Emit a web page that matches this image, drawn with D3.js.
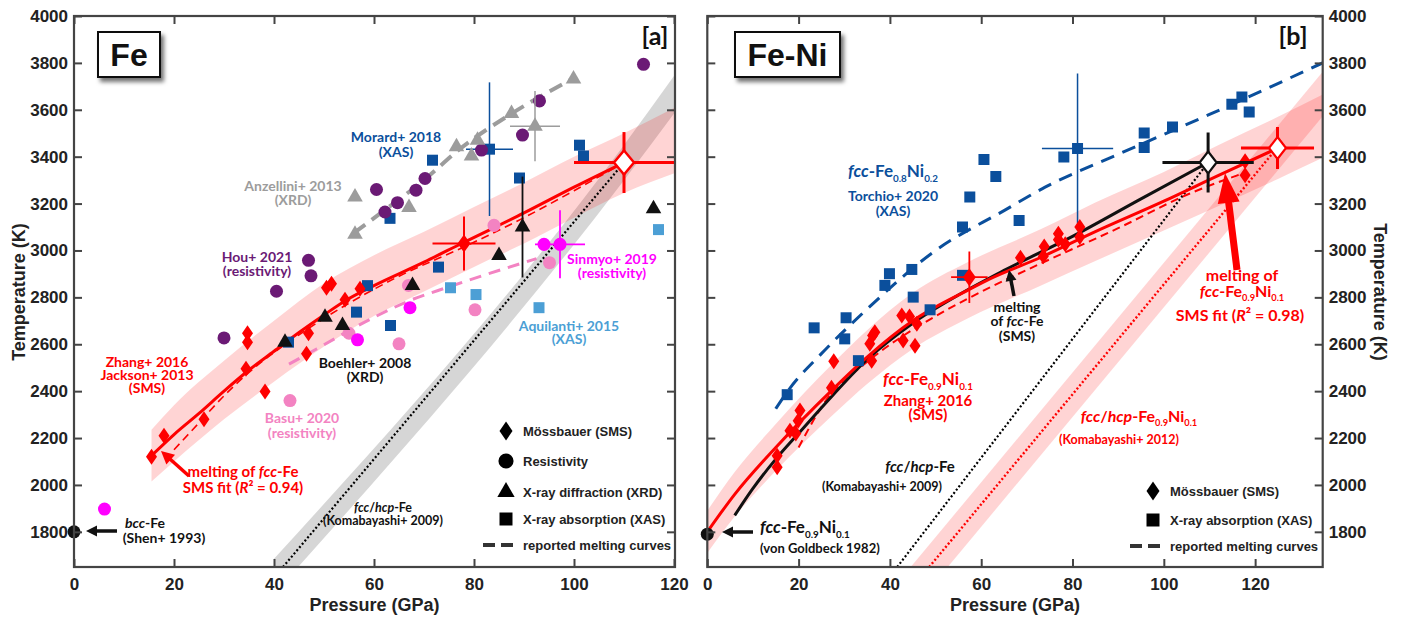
<!DOCTYPE html>
<html>
<head>
<meta charset="utf-8">
<script src="https://cdn.jsdelivr.net/npm/d3@7"></script>
<style>
  body { margin: 0; background: #fff; }
  svg text { font-family: Lato, "Open Sans", sans-serif; font-weight: bold; }
  .tick text, .axis-title, .legend text { font-family: "Liberation Sans", Arial, sans-serif; font-weight: bold; fill: #222; }
</style>
</head>
<body>
<svg id="chart" width="1402" height="619"></svg>
<script>
// ---------- data : panel [a] Fe  (pressure GPa, temperature K) ----------
const xTicks = [0, 20, 40, 60, 80, 100, 120];
const yTicks = [1800, 2000, 2200, 2400, 2600, 2800, 3000, 3200, 3400, 3600, 3800, 4000];

const aFitLine = [[15.5,2125],[20,2215],[25,2305],[30,2400],[35,2490],[40,2570],[45,2650],[50,2725],[55,2795],[60,2850],[70,2950],[78,3035],[90,3160],[100,3270],[110,3375]];
const aFitBand = [[15.5,2015,2235],[20,2100,2340],[30,2280,2530],[40,2440,2700],[50,2590,2860],[60,2720,2980],[70,2825,3080],[80,2930,3185],[90,3030,3290],[100,3140,3400],[110,3245,3500],[120.2,3330,3610]];
const aReported = [[20,2150],[25,2265],[30,2380],[35,2480],[45,2640],[55,2775],[65,2890],[78,3015],[90,3140],[100,3255],[110,3375]];
const aSms = [[15.5,2120],[18,2210],[26,2280],[34.7,2647],[34.7,2609],[34.4,2496],[38.2,2399],[46.9,2647],[46.5,2559],[54.2,2790],[50.5,2841],[51.5,2858],[57.2,2837]];
const aSmsErr = [[78,3030,6.3,115]];
const aFeMelt = [[110,3375,10,130]];
const aHou = [[30,2627],[40.5,2826],[46.9,2958],[47.4,2892],[60.5,3260],[62.2,3164],[64.7,3204],[68.4,3257],[70.2,3307],[81.5,3428],[89.7,3492],[93.1,3638],[113.9,3794]];
const aSinmyo = [[6.1,1897],[56.7,2619],[67.2,2756],[94,3026]];
const aSinmyoErr = [[97.2,3026,5,145]];
const aBasu = [[43.2,2360],[55,2647],[65,2602],[66.9,2851],[80.2,2747],[84,3107],[95.1,2948]];
const aBasuCurve = [[43,2515],[48.5,2580],[60,2715],[67,2785],[75,2845],[92.5,2965]];
const aBoehler = [[42.2,2609],[50.2,2715],[53.7,2680],[67.7,2851],[85,2979],[115.9,3178]];
const aBoehlerErr = [[89.7,3100,0,215]];
const aAnzellini = [[56.2,3228],[56.2,3069],[67,3183],[76.5,3442],[79.5,3403],[80.7,3470],[87.5,3584],[99.9,3731]];
const aAnzelliniErr = [[92.2,3530,5,150]];
const aAnzelliniCurve = [[56,3075],[62,3170],[70,3300],[77,3430],[88,3590],[100,3735]];
const aMorard = [[42.9,2609],[56.5,2737],[58.7,2850],[63.3,2680],[63.2,3137],[71.7,3385],[72.9,2929],[89.1,3309],[101.1,3449],[101.9,3403]];
const aMorardErr = [[83.1,3432,4.7,285]];
const aAquilanti = [[75.3,2841],[80.4,2812],[93,2756],[116.9,3089]];
const aShen = [[0,1800]];
const aPhaseLine = [[41.8,1650],[110,3375]];
const aPhaseBand = [[40,1535,1685],[110,3300,3450],[120.2,3590,3750]];

// ---------- data : panel [b] Fe-Ni ----------
const bTorchio = [[17.5,2385],[23.4,2670],[30.4,2713],[30.1,2623],[33.1,2530],[38.9,2851],[39.9,2901],[44.8,2919],[45.1,2801],[48.8,2747],[55.9,3100],[55.9,2894],[57.5,3228],[60.6,3388],[63.2,3316],[68.3,3128],[78.1,3399],[95.7,3501],[95.7,3439],[101.9,3527],[114.9,3624],[117.1,3655],[118.7,3591]];
const bTorchioErr = [[81.1,3435,7.8,320]];
const bTorchioCurve = [[15,2325],[18,2410],[25,2560],[35,2750],[50,3000],[65,3170],[74,3270],[90,3410],[110,3580],[134.8,3800]];
const bZhang = [[15.3,2125],[15.3,2075],[18.1,2231],[19.4,2219],[19.9,2274],[20.3,2317],[27.2,2414],[27.7,2528],[35.6,2602],[36,2530],[36.2,2637],[36.7,2651],[42.6,2723],[42.9,2616],[44.3,2718],[45.5,2594],[45.9,2687],[68.6,2969],[73.6,2975],[73.8,3017],[76.9,3046],[76.9,3071],[78.4,3026],[81.6,3100],[81.6,3057],[117.8,3381],[117.8,3321]];
const bZhangErr = [[57.4,2886,4,110]];
const bFeMelt = [[109.7,3375,10,128]];
const bFeNiMelt = [[124.9,3437,8,90]];
const bFeLine = [[6,1870],[10,1985],[15,2110],[20,2220],[27.6,2385],[35,2535],[45,2690],[55,2810],[65,2915],[80,3060],[95,3220],[109.7,3375]];
const bFitLine = [[0,1800],[6,1960],[15,2160],[27.6,2410],[35,2545],[45,2700],[57,2830],[62,2880],[73,2970],[85,3080],[100,3210],[112,3320],[125,3437]];
const bFitBand = [[0,1710,1890],[6,1865,2055],[15,2060,2260],[27.6,2300,2520],[35,2430,2660],[45,2580,2820],[57,2710,2950],[73,2850,3090],[85,2955,3205],[100,3085,3335],[112,3190,3450],[125,3305,3570],[134.8,3395,3665]];
const bReported = [[20,2160],[27.6,2400],[31,2460],[38,2570],[50,2720],[62,2843],[73,2944],[90,3095],[105.7,3243],[117.5,3330]];
const bFePhase = [[41.6,1650],[109.7,3375]];
const bFeNiPhase = [[48.6,1650],[124.5,3430]];
const bFeNiPhaseBand = [[44,1447,1637],[134.8,3572,3762]];
const bGoldbeck = [[0,1790]];

// ---------- colours ----------
const RED = "#fe0000", PURPLE = "#6b1a75", MAGENTA = "#ff00ff", PINK = "#f383c2",
      NAVY = "#0b4f9c", SKY = "#4c9fd5", GRAY = "#9c9c9c", INK = "#111";

const svg = d3.select("#chart");
const defs = svg.append("defs");
const f = defs.append("filter").attr("id", "shadow").attr("x", "-20%").attr("y", "-20%").attr("width", "150%").attr("height", "160%");
f.append("feDropShadow").attr("dx", 3).attr("dy", 4).attr("stdDeviation", 2.2).attr("flood-color", "#000").attr("flood-opacity", 0.55);

const y = d3.scaleLinear().domain([1650, 4000]).range([567, 16]);
const xa = d3.scaleLinear().domain([0, 120.2]).range([74, 675]);
const xb = d3.scaleLinear().domain([0, 134.8]).range([707.3, 1322.7]);

function diamond(w, h) { return `M0,${-h/2}L${w/2},0L0,${h/2}L${-w/2},0Z`; }
const sym = {
  circle: d3.symbol(d3.symbolCircle, 133)(),
  square: d3.symbol(d3.symbolSquare, 121)(),
  triangle: d3.symbol(d3.symbolTriangle, 105)(),
  diamond: diamond(11, 16)
};

function panel(id, x) {
  const [x0, x1] = x.range();
  defs.append("clipPath").attr("id", "clip-" + id).append("rect")
    .attr("x", x0).attr("y", y(4000)).attr("width", x1 - x0).attr("height", y(1650) - y(4000));
  const g = svg.append("g");
  const plot = g.append("g").attr("clip-path", `url(#clip-${id})`);
  return { g, plot, x };
}

function band(p, data, color, op) {
  p.plot.append("path").datum(data)
    .attr("d", d3.area().x(d => p.x(d[0])).y0(d => y(d[1])).y1(d => y(d[2])).curve(d3.curveMonotoneX))
    .attr("fill", color).attr("fill-opacity", op);
}
function line(p, data, color, w, dash) {
  p.plot.append("path").datum(data)
    .attr("d", d3.line().x(d => p.x(d[0])).y(d => y(d[1])).curve(d3.curveMonotoneX))
    .attr("fill", "none").attr("stroke", color).attr("stroke-width", w)
    .attr("stroke-dasharray", dash || null);
}
function points(g, p, data, shape, color) {
  g.selectAll(null).data(data).enter().append("path")
    .attr("d", shape).attr("fill", color)
    .attr("transform", d => `translate(${p.x(d[0])},${y(d[1])})`);
}
function errbars(g, p, data, color, w) {
  data.forEach(d => {
    if (d[2]) g.append("line").attr("x1", p.x(d[0] - d[2])).attr("x2", p.x(d[0] + d[2]))
      .attr("y1", y(d[1])).attr("y2", y(d[1])).attr("stroke", color).attr("stroke-width", w);
    g.append("line").attr("x1", p.x(d[0])).attr("x2", p.x(d[0]))
      .attr("y1", y(d[1] - d[3])).attr("y2", y(d[1] + d[3])).attr("stroke", color).attr("stroke-width", w);
  });
}

function axes(p, side) {
  const g = p.g, x = p.x;
  const style = sel => {
    sel.select(".domain").remove();
    sel.selectAll("line").attr("stroke", "#444").attr("stroke-width", 2);
    sel.selectAll("text").attr("font-size", 17);
  };
  const fmt = d3.format("d");
  g.append("g").attr("transform", `translate(0,${y(1650)})`)
    .call(d3.axisBottom(x).tickValues(xTicks).tickFormat(fmt).tickSize(-8).tickSizeOuter(0).tickPadding(11)).call(style);
  g.append("g").attr("transform", `translate(0,${y(4000)})`)
    .call(d3.axisTop(x).tickValues(xTicks).tickSize(-8).tickSizeOuter(0).tickFormat("")).call(style);
  const [x0, x1] = x.range();
  const lab = side === "left" ? d3.axisLeft(y) : d3.axisRight(y);
  const nol = side === "left" ? d3.axisRight(y) : d3.axisLeft(y);
  g.append("g").attr("transform", `translate(${side === "left" ? x0 : x1},0)`)
    .call(lab.tickValues(yTicks).tickFormat(fmt).tickSize(-8).tickSizeOuter(0).tickPadding(6)).call(style);
  g.append("g").attr("transform", `translate(${side === "left" ? x1 : x0},0)`)
    .call(nol.tickValues(yTicks).tickSize(-8).tickSizeOuter(0).tickFormat("")).call(style);
  g.append("rect").attr("x", x0).attr("y", y(4000)).attr("width", x1 - x0).attr("height", y(1650) - y(4000))
    .attr("fill", "none").attr("stroke", "#444").attr("stroke-width", 2.2);
  g.append("text").attr("class", "axis-title").attr("x", (x0 + x1) / 2).attr("y", 611)
    .attr("text-anchor", "middle").attr("font-size", 18).text("Pressure (GPa)");
  const tx = side === "left" ? 25 : 1374;
  g.append("text").attr("class", "axis-title").attr("font-size", 18).attr("text-anchor", "middle")
    .attr("transform", `translate(${tx},292) rotate(${side === "left" ? -90 : 90})`).text("Temperature (K)");
}

// text with *italic* and {subscript} markup
function rich(g, x, yy, str, size, color, anchor) {
  const t = g.append("text").attr("x", x).attr("y", yy).attr("font-size", size)
    .attr("fill", color).attr("text-anchor", anchor || "middle");
  let shift = 0;
  str.match(/(\*[^*]+\*|\{[^}]+\}|[^*{]+)/g).forEach(tok => {
    let txt = tok, it = false, sub = false;
    if (tok[0] === "*") { txt = tok.slice(1, -1); it = true; }
    if (tok[0] === "{") { txt = tok.slice(1, -1); sub = true; }
    const s = t.append("tspan").text(txt);
    if (it) s.attr("font-style", "italic");
    const target = sub ? size * 0.28 : 0;
    if (target !== shift) { s.attr("dy", target - shift); shift = target; }
    if (sub) s.attr("font-size", size * 0.58);
  });
}
function arrow(g, x1, y1, x2, y2, w, hl, hw, color) {
  const a = Math.atan2(y2 - y1, x2 - x1);
  const bx = x2 - hl * Math.cos(a), by = y2 - hl * Math.sin(a);
  const px = -Math.sin(a) * hw / 2, py = Math.cos(a) * hw / 2;
  g.append("line").attr("x1", x1).attr("y1", y1).attr("x2", bx + Math.cos(a)).attr("y2", by + Math.sin(a))
    .attr("stroke", color).attr("stroke-width", w);
  g.append("path").attr("d", `M${x2},${y2}L${bx + px},${by + py}L${bx - px},${by - py}Z`).attr("fill", color);
}
function tagBox(g, x, yy, w, h, label) {
  g.append("rect").attr("x", x).attr("y", yy).attr("width", w).attr("height", h)
    .attr("fill", "#fff").attr("stroke", "#111").attr("stroke-width", 2).attr("filter", "url(#shadow)");
  g.append("text").attr("x", x + w / 2).attr("y", yy + h / 2 + 11).attr("text-anchor", "middle")
    .attr("font-size", 32).attr("fill", "#111").style("font-family", "'Liberation Sans', Arial, sans-serif").text(label);
}
function legend(g, x, yy, items) {
  const lg = g.append("g").attr("class", "legend");
  items.forEach((it, i) => {
    const cy = yy[i];
    if (it.shape === "dash") {
      lg.append("line").attr("x1", x - 23).attr("x2", x + 7).attr("y1", cy).attr("y2", cy)
        .attr("stroke", "#333").attr("stroke-width", 4).attr("stroke-dasharray", "12 6");
    } else {
      lg.append("path").attr("d", it.shape).attr("fill", "#000").attr("transform", `translate(${x},${cy})`);
    }
    lg.append("text").attr("x", x + 17).attr("y", cy + 5).attr("font-size", 13).text(it.label);
  });
}

// ================= panel a =================
const A = panel("a", xa);
band(A, aPhaseBand, "#000", 0.16);
band(A, aFitBand, RED, 0.17);
line(A, aPhaseLine, "#000", 2.2, "2 2.2");
line(A, aAnzelliniCurve, GRAY, 4, "14 8");
line(A, aBasuCurve, PINK, 3, "12 8");
line(A, aReported, RED, 1.6, "8 5");
line(A, aFitLine, RED, 3);
const am = A.plot.append("g");
points(am, A, aAquilanti, sym.square, SKY);
points(am, A, aMorard, sym.square, NAVY);
errbars(am, A, aMorardErr, NAVY, 1.5);
points(am, A, aMorardErr, sym.square, NAVY);
points(am, A, aBasu, sym.circle, PINK);
points(am, A, aSinmyo, sym.circle, MAGENTA);
errbars(am, A, aSinmyoErr, MAGENTA, 1.8);
points(am, A, aSinmyoErr, sym.circle, MAGENTA);
points(am, A, aHou, sym.circle, PURPLE);
errbars(am, A, aAnzelliniErr, GRAY, 1.5);
points(am, A, aAnzellini, sym.triangle, GRAY);
points(am, A, aAnzelliniErr, sym.triangle, GRAY);
errbars(am, A, aBoehlerErr, INK, 1.8);
points(am, A, aBoehler, sym.triangle, INK);
points(am, A, aBoehlerErr, sym.triangle, INK);
points(am, A, aSms, sym.diamond, RED);
errbars(am, A, aSmsErr, RED, 2);
points(am, A, aSmsErr, diamond(13, 18), RED);
errbars(am, A, aFeMelt, RED, 3);
am.selectAll(null).data(aFeMelt).enter().append("path").attr("d", diamond(20, 24))
  .attr("fill", "#fff").attr("stroke", RED).attr("stroke-width", 2.5)
  .attr("transform", d => `translate(${xa(d[0])},${y(d[1])})`);
points(A.g, A, aShen, sym.circle, INK);
axes(A, "left");

tagBox(A.g, 98, 32, 62, 45, "Fe");
A.g.append("text").attr("x", 655).attr("y", 45).attr("text-anchor", "middle").attr("font-size", 25).attr("fill", "#111").text("[a]");
const at = A.g.append("g");
rich(at, 396, 142, "Morard+ 2018", 14, NAVY); rich(at, 396, 157, "(XAS)", 14, NAVY);
rich(at, 293, 191, "Anzellini+ 2013", 14, GRAY); rich(at, 293, 205, "(XRD)", 14, GRAY);
rich(at, 257, 262, "Hou+ 2021", 14, PURPLE); rich(at, 257, 276, "(resistivity)", 14, PURPLE);
rich(at, 147, 367, "Zhang+ 2016", 14, RED); rich(at, 147, 380, "Jackson+ 2013", 14, RED); rich(at, 147, 393, "(SMS)", 14, RED);
rich(at, 243, 477, "melting of *fcc*-Fe", 15, RED); rich(at, 243, 493, "SMS fit (*R*² = 0.94)", 15, RED);
rich(at, 145, 528, "*bcc*-Fe", 14, INK); rich(at, 164, 543, "(Shen+ 1993)", 14, INK);
rich(at, 302, 423, "Basu+ 2020", 14, PINK); rich(at, 302, 438, "(resistivity)", 14, PINK);
rich(at, 365, 368, "Boehler+ 2008", 14, INK); rich(at, 365, 382, "(XRD)", 14, INK);
rich(at, 612, 264, "Sinmyo+ 2019", 14, MAGENTA); rich(at, 612, 278, "(resistivity)", 14, MAGENTA);
rich(at, 569, 331, "Aquilanti+ 2015", 14, SKY); rich(at, 569, 344, "(XAS)", 14, SKY);
rich(at, 383, 512, "*fcc*/*hcp*-Fe", 12.5, INK); rich(at, 383, 525, "(Komabayashi+ 2009)", 12.5, INK);
arrow(at, 189, 476, 161, 451, 3.5, 13, 13, RED);
arrow(at, 117, 531, 86, 531, 3.5, 11, 11, INK);
legend(A.g, 506, [431, 461, 492, 519, 545], [
  { shape: diamond(13, 19), label: "Mössbauer (SMS)" },
  { shape: d3.symbol(d3.symbolCircle, 180)(), label: "Resistivity" },
  { shape: d3.symbol(d3.symbolTriangle, 130)(), label: "X-ray diffraction (XRD)" },
  { shape: d3.symbol(d3.symbolSquare, 169)(), label: "X-ray absorption (XAS)" },
  { shape: "dash", label: "reported melting curves" }
]);

// ================= panel b =================
const B = panel("b", xb);
band(B, bFitBand, RED, 0.17);
band(B, bFeNiPhaseBand, RED, 0.17);
line(B, bFePhase, "#000", 2.2, "2 2.2");
line(B, bFeNiPhase, RED, 2.4, "2 2.2");
line(B, bTorchioCurve, NAVY, 3, "14 9");
line(B, bReported, RED, 2, "8 5");
line(B, bFeLine, INK, 3);
line(B, bFitLine, RED, 3);
const bm = B.plot.append("g");
errbars(bm, B, bTorchioErr, NAVY, 1.5);
points(bm, B, bTorchio, sym.square, NAVY);
points(bm, B, bTorchioErr, sym.square, NAVY);
points(bm, B, bZhang, sym.diamond, RED);
errbars(bm, B, bZhangErr, RED, 1.8);
points(bm, B, bZhangErr, diamond(13, 18), RED);
errbars(bm, B, bFeMelt, INK, 3);
errbars(bm, B, bFeNiMelt, RED, 3);
bm.selectAll(null).data(bFeMelt).enter().append("path").attr("d", diamond(17, 22))
  .attr("fill", "#fff").attr("stroke", INK).attr("stroke-width", 2.2)
  .attr("transform", d => `translate(${xb(d[0])},${y(d[1])})`);
bm.selectAll(null).data(bFeNiMelt).enter().append("path").attr("d", diamond(17, 22))
  .attr("fill", "#fff").attr("stroke", RED).attr("stroke-width", 2.2)
  .attr("transform", d => `translate(${xb(d[0])},${y(d[1])})`);
points(B.g, B, bGoldbeck, sym.circle, INK);
axes(B, "right");

tagBox(B.g, 735, 32, 105, 45, "Fe-Ni");
B.g.append("text").attr("x", 1293).attr("y", 45).attr("text-anchor", "middle").attr("font-size", 25).attr("fill", "#111").text("[b]");
const bt = B.g.append("g");
rich(bt, 893, 177, "*fcc*-Fe{0.8}Ni{0.2}", 17, NAVY); rich(bt, 893, 201, "Torchio+ 2020", 14, NAVY); rich(bt, 893, 216, "(XAS)", 14, NAVY);
rich(bt, 1017, 312, "melting", 14, INK); rich(bt, 1017, 326, "of *fcc*-Fe", 14, INK); rich(bt, 1017, 341, "(SMS)", 14, INK);
rich(bt, 1242, 281, "melting of", 16, RED); rich(bt, 1242, 297, "*fcc*-Fe{0.9}Ni{0.1}", 16, RED); rich(bt, 1240, 321, "SMS fit (*R*² = 0.98)", 16, RED);
rich(bt, 928, 385, "*fcc*-Fe{0.9}Ni{0.1}", 17, RED); rich(bt, 928, 406, "Zhang+ 2016", 15, RED); rich(bt, 928, 420, "(SMS)", 15, RED);
rich(bt, 920, 472, "*fcc*/*hcp*-Fe", 15, INK); rich(bt, 882, 491, "(Komabayashi+ 2009)", 12.5, INK);
rich(bt, 1139, 422, "*fcc*/*hcp*-Fe{0.9}Ni{0.1}", 16, RED); rich(bt, 1119, 444, "(Komabayashi+ 2012)", 12.5, RED);
rich(bt, 760, 533, "*fcc*-Fe{0.9}Ni{0.1}", 17, INK, "start"); rich(bt, 760, 553, "(von Goldbeck 1982)", 13, INK, "start");
arrow(bt, 1014, 296, 1009, 270, 3.5, 11, 11, INK);
arrow(bt, 1237, 270, 1225, 173, 7, 30, 22, RED);
arrow(bt, 753, 532, 722, 532, 3.5, 11, 11, INK);
legend(B.g, 1153, [491, 520, 546], [
  { shape: diamond(13, 19), label: "Mössbauer (SMS)" },
  { shape: d3.symbol(d3.symbolSquare, 169)(), label: "X-ray absorption (XAS)" },
  { shape: "dash", label: "reported melting curves" }
]);
</script>
</body>
</html>
